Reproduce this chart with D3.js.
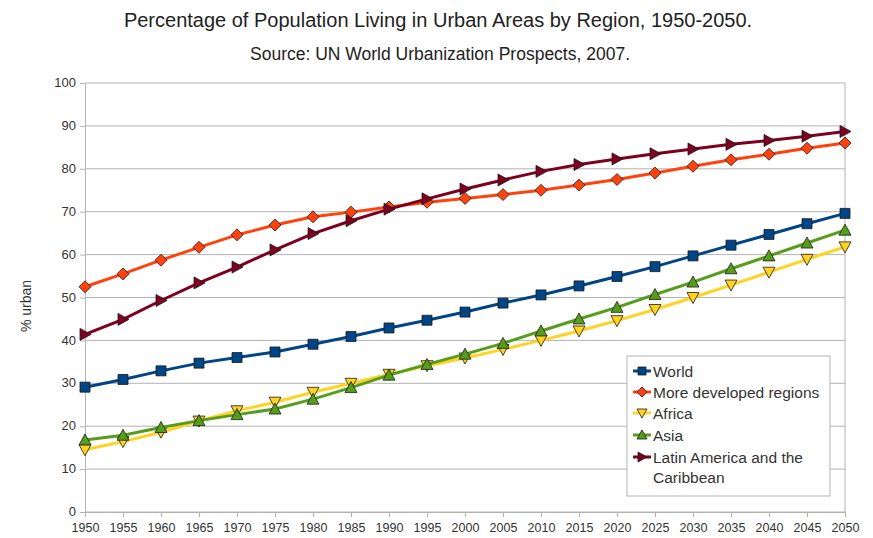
<!DOCTYPE html>
<html>
<head>
<meta charset="utf-8">
<script src="https://cdn.jsdelivr.net/npm/d3@7"></script>
<style>
  body { margin: 0; background: #fff; }
  text { font-family: "Liberation Sans", Arial, sans-serif; }
</style>
</head>
<body>
<svg id="chart" width="873" height="538" viewBox="0 0 873 538"></svg>
<script>
const years = [1950, 1955, 1960, 1965, 1970, 1975, 1980, 1985, 1990, 1995, 2000,
  2005, 2010, 2015, 2020, 2025, 2030, 2035, 2040, 2045, 2050];

const world = [29.1, 30.9, 32.9, 34.7, 36.0, 37.3, 39.1, 40.9, 42.9, 44.7, 46.6,
  48.7, 50.6, 52.7, 54.9, 57.2, 59.7, 62.2, 64.7, 67.2, 69.6];
const moreDeveloped = [52.5, 55.5, 58.7, 61.7, 64.6, 66.9, 68.8, 69.9, 71.1, 72.2, 73.1,
  74.0, 75.0, 76.2, 77.5, 79.0, 80.6, 82.1, 83.4, 84.8, 86.0];
const africa = [14.5, 16.4, 18.6, 21.2, 23.6, 25.6, 27.9, 30.0, 32.1, 34.1, 35.9,
  37.9, 40.0, 42.2, 44.6, 47.2, 50.0, 52.9, 55.9, 58.9, 61.8];
const asia = [16.8, 17.9, 19.7, 21.3, 22.7, 24.0, 26.3, 29.0, 31.9, 34.4, 36.8,
  39.3, 42.2, 45.0, 47.7, 50.7, 53.6, 56.7, 59.7, 62.7, 65.7];
const latinAmerica = [41.4, 44.9, 49.3, 53.4, 57.1, 61.1, 64.9, 67.9, 70.6, 73.0, 75.3,
  77.4, 79.4, 81.0, 82.3, 83.5, 84.6, 85.7, 86.6, 87.6, 88.7];

const yTicks = [0, 10, 20, 30, 40, 50, 60, 70, 80, 90, 100];

const seriesNames = ["World", "More developed regions", "Africa", "Asia", "Latin America and the Caribbean"];
const seriesColors = ["#004586", "#ff420e", "#ffd320", "#579d1c", "#7e0021"];
const seriesShapes = ["square", "diamond", "down", "up", "right"];
const seriesValues = [world, moreDeveloped, africa, asia, latinAmerica];

const svg = d3.select("#chart");
const margin = { left: 85, right: 28, top: 83, bottom: 26 };
const width = 873, height = 538;

const x = d3.scaleLinear().domain([1950, 2050]).range([margin.left, width - margin.right]);
const y = d3.scaleLinear().domain([0, 100]).range([height - margin.bottom, margin.top]);

// titles
svg.append("text")
  .attr("x", 438).attr("y", 27)
  .attr("text-anchor", "middle")
  .attr("font-size", 20).attr("fill", "#222")
  .text("Percentage of Population Living in Urban Areas by Region, 1950-2050.");
svg.append("text")
  .attr("x", 440).attr("y", 60)
  .attr("text-anchor", "middle")
  .attr("font-size", 17.5).attr("fill", "#222")
  .text("Source: UN World Urbanization Prospects, 2007.");

// grid
svg.append("g")
  .selectAll("line")
  .data(yTicks)
  .enter()
  .append("line")
  .attr("x1", x(1950)).attr("x2", x(2050))
  .attr("y1", d => y(d)).attr("y2", d => y(d))
  .attr("stroke", "#b3b3b3").attr("stroke-width", 1);

svg.append("line")
  .attr("x1", x(2050)).attr("x2", x(2050))
  .attr("y1", y(0)).attr("y2", y(100))
  .attr("stroke", "#b3b3b3");

// axes
const yAxis = svg.append("g")
  .attr("transform", `translate(${x(1950)},0)`)
  .call(d3.axisLeft(y).tickValues(yTicks).tickSize(5).tickPadding(4));
const xAxis = svg.append("g")
  .attr("transform", `translate(0,${y(0)})`)
  .call(d3.axisBottom(x).tickValues(years).tickFormat(d3.format("d")).tickSize(5).tickPadding(6));

[yAxis, xAxis].forEach(ax => {
  ax.select(".domain").attr("stroke", "#b3b3b3");
  ax.selectAll(".tick line").attr("stroke", "#b3b3b3");
  ax.selectAll(".tick text")
    .attr("font-family", "'Liberation Sans', Arial, sans-serif")
    .attr("font-size", 13).attr("fill", "#333");
});
yAxis.selectAll(".tick text").attr("dy", "0.28em");
xAxis.selectAll(".tick text").attr("font-size", 12.5);

svg.append("text")
  .attr("transform", "translate(31,306) rotate(-90)")
  .attr("text-anchor", "middle")
  .attr("font-size", 14).attr("fill", "#333")
  .text("% urban");

// marker shapes
function markerPath(shape, s) {
  if (shape === "square") return `M${-s},${-s}H${s}V${s}H${-s}Z`;
  if (shape === "diamond") return `M0,${-s - 1}L${s + 1},0L0,${s + 1}L${-s - 1},0Z`;
  if (shape === "down") return `M${-s - 1},${-s}H${s + 1}L0,${s + 1}Z`;
  if (shape === "up") return `M${-s - 1},${s}H${s + 1}L0,${-s - 1}Z`;
  return `M${-s},${-s - 1}L${s + 1},0L${-s},${s + 1}Z`;
}

const line = d3.line()
  .x((d, i) => x(years[i]))
  .y(d => y(d));

seriesValues.forEach((vals, k) => {
  const g = svg.append("g");
  g.append("path")
    .datum(vals)
    .attr("d", line)
    .attr("fill", "none")
    .attr("stroke", seriesColors[k])
    .attr("stroke-width", 3);
  g.selectAll("path.m")
    .data(vals)
    .enter()
    .append("path")
    .attr("class", "m")
    .attr("transform", (d, i) => `translate(${x(years[i])},${y(d)})`)
    .attr("d", markerPath(seriesShapes[k], 5))
    .attr("fill", seriesColors[k])
    .attr("stroke", "#1a1a1a")
    .attr("stroke-width", 0.8);
});

// legend
const legend = svg.append("g").attr("transform", "translate(627,356)");
legend.append("rect")
  .attr("width", 203).attr("height", 140)
  .attr("fill", "#fff").attr("stroke", "#b3b3b3");

const rowY = [15, 36, 57, 79, 101];
seriesNames.forEach((name, k) => {
  const row = legend.append("g").attr("transform", `translate(0,${rowY[k]})`);
  row.append("line")
    .attr("x1", 6).attr("x2", 24).attr("y1", 0).attr("y2", 0)
    .attr("stroke", seriesColors[k]).attr("stroke-width", 3);
  row.append("path")
    .attr("transform", "translate(15,0)")
    .attr("d", markerPath(seriesShapes[k], 4))
    .attr("fill", seriesColors[k])
    .attr("stroke", "#1a1a1a").attr("stroke-width", 0.8);
  const t = row.append("text")
    .attr("x", 26).attr("y", 5.5)
    .attr("font-size", 15.5).attr("fill", "#333");
  if (name === "Latin America and the Caribbean") {
    t.text("Latin America and the");
    row.append("text")
      .attr("x", 26).attr("y", 25.5)
      .attr("font-size", 15.5).attr("fill", "#333")
      .text("Caribbean");
  } else {
    t.text(name);
  }
});
</script>
</body>
</html>
